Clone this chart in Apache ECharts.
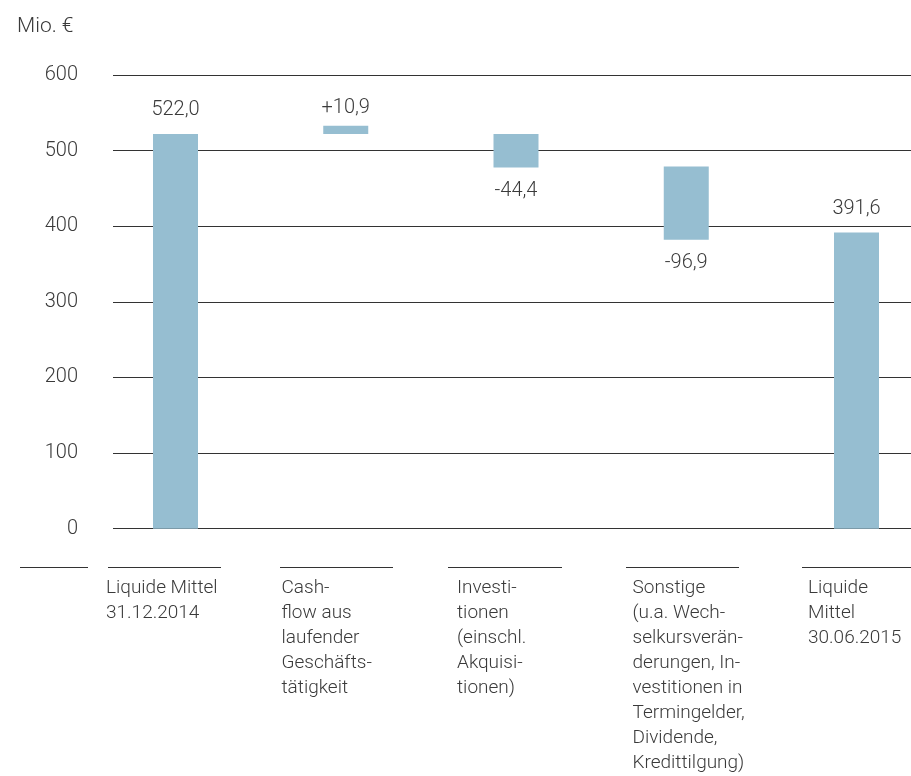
<!DOCTYPE html>
<html><head><meta charset="utf-8">
<script src="https://cdn.jsdelivr.net/npm/echarts@6/dist/echarts.min.js"></script>
<style>html,body{margin:0;padding:0;background:#fff}#c{width:911px;height:776px}</style>
</head><body><div id="c"></div>
<script>
// ---- data ----
const unitLabel = 'Mio. €';
const categories = [
  'Liquide Mittel\n31.12.2014',
  'Cash-\nflow aus\nlaufender\nGeschäfts-\ntätigkeit',
  'Investi-\ntionen\n(einschl.\nAkquisi-\ntionen)',
  'Sonstige\n(u.a. Wech-\nselkursverän-\nderungen, In-\nvestitionen in\nTermingelder,\nDividende,\nKredittilgung)',
  'Liquide\nMittel\n30.06.2015'
];
const kinds   = ['total', 'delta', 'delta', 'delta', 'total'];
const changes = [522.0, 10.9, -44.4, -96.9, 391.6];
// upper end of each floating bar as drawn in the reference
const barTops = [522.0, 532.9, 522.0, 479.0, 391.6];
const yMin = 0, yMax = 600, yStep = 100;

// ---- derived series ----
const baseVals = barTops.map((t, i) => +(t - Math.abs(changes[i])).toFixed(1));
const sizeVals = changes.map(v => Math.abs(v));
function fmt(i) {
  const v = changes[i];
  const s = Math.abs(v).toFixed(1).replace('.', ',');
  if (kinds[i] === 'total') return s;
  return (v > 0 ? '+' : '-') + s;
}

const FONT = 'Roboto, "Noto Sans", sans-serif';
const TXT = '#3a3a3a';
const LINE = '#333333';
const BAR = '#96BED1';

const chart = echarts.init(document.getElementById('c'), null, {renderer: 'canvas'});
const gridTop = 75, gridBottom = 247.3;

const option = {
  animation: false,
  backgroundColor: '#ffffff',
  textStyle: {fontFamily: FONT},
  title: {
    text: unitLabel, left: 12, top: 11,
    textStyle: {fontFamily: FONT, fontSize: 21, fontWeight: 300, color: TXT}
  },
  grid: [
    {left: 113, right: 0, top: gridTop, bottom: gridBottom},
    {left: 175.5, right: 54.5, top: gridTop, bottom: gridBottom},
    {left: 106, width: 702, top: 567, height: 1}
  ],
  xAxis: [
    {gridIndex: 0, type: 'value', show: false, min: 0, max: 1},
    {gridIndex: 1, type: 'category', data: categories, boundaryGap: false, show: false},
    {gridIndex: 2, type: 'category', data: categories, boundaryGap: false,
     axisLine: {show: false}, axisTick: {show: false}, splitLine: {show: false},
     axisLabel: {interval: 0, align: 'left', verticalAlign: 'top', margin: 8,
       fontFamily: FONT, fontSize: 19, fontWeight: 300, color: TXT, lineHeight: 25}}
  ],
  yAxis: [
    {gridIndex: 0, type: 'value', min: yMin, max: yMax, interval: yStep,
     axisLine: {show: false}, axisTick: {show: false},
     splitLine: {show: true, lineStyle: {color: LINE, width: 1.2}},
     axisLabel: {margin: 35, fontFamily: FONT, fontSize: 20, fontWeight: 300, color: TXT}},
    {gridIndex: 1, type: 'value', min: yMin, max: yMax, interval: yStep, show: false},
    {gridIndex: 2, type: 'value', show: false}
  ],
  graphic: [
    [20, 88], [108, 221], [280, 393], [448, 562], [626, 739], [802, 911]
  ].map(s => ({
    type: 'line', silent: true,
    shape: {x1: s[0], y1: 567.5, x2: s[1], y2: 567.5},
    style: {stroke: LINE, lineWidth: 1.2}
  })),
  series: [
    {
      name: 'base', type: 'bar', xAxisIndex: 1, yAxisIndex: 1, stack: 'w',
      barWidth: 45, silent: true, clip: false,
      itemStyle: {color: 'rgba(0,0,0,0)'},
      data: baseVals
    },
    {
      name: 'value', type: 'bar', xAxisIndex: 1, yAxisIndex: 1, stack: 'w',
      barWidth: 45, z: 3, clip: false,
      itemStyle: {color: BAR},
      data: sizeVals.map((v, i) => ({
        value: v,
        label: {
          show: true,
          position: changes[i] < 0 ? 'bottom' : 'top',
          distance: changes[i] < 0 ? 13 : (kinds[i] === 'total' ? 14 : 8),
          formatter: () => fmt(i),
          fontFamily: FONT, fontSize: 20, fontWeight: 300, color: TXT
        }
      }))
    }
  ]
};
chart.setOption(option);
</script>
</body></html>
